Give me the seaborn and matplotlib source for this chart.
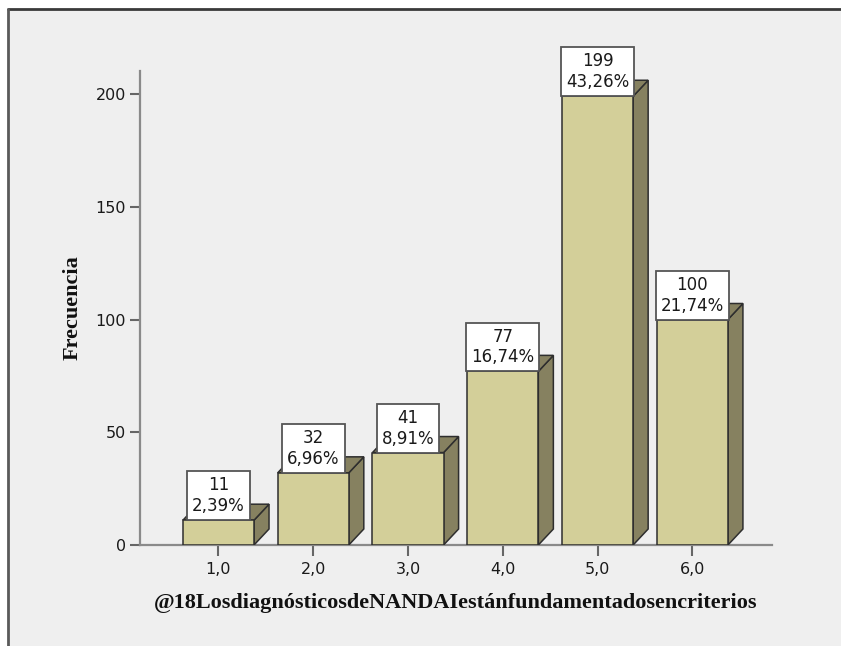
import matplotlib
matplotlib.use("Agg")
import matplotlib.pyplot as plt
from matplotlib.patches import Polygon, Rectangle
from matplotlib.lines import Line2D
import seaborn as sns
import pandas as pd

# Response categories and their frequencies
categories = ["1,0", "2,0", "3,0", "4,0", "5,0", "6,0"]
counts = [11, 32, 41, 77, 199, 100]
percents = ["2,39%", "6,96%", "8,91%", "16,74%", "43,26%", "21,74%"]
y_ticks = [0, 50, 100, 150, 200]

x_title = "@18LosdiagnósticosdeNANDAIestánfundamentadosencriterios"
y_title = "Frecuencia"

front_color = "#d3cf99"
depth_color = "#868160"
edge_color = "#2e2e2e"
panel_color = "#efefef"

df = pd.DataFrame({"categoria": categories, "frecuencia": counts})

sns.set_theme(style="white")
plt.rcParams["font.family"] = ["DejaVu Sans"]

W, H = 841, 646
fig = plt.figure(figsize=(W / 100, H / 100), dpi=100, facecolor="white")

# grey panel with a dark frame on its top and left edges
fig.add_artist(Rectangle((8 / W, 0), 1 - 8 / W, 1 - 9 / H,
                         transform=fig.transFigure, facecolor=panel_color,
                         edgecolor="none", zorder=-10))
fig.add_artist(Line2D([8 / W, 1], [1 - 9 / H, 1 - 9 / H], transform=fig.transFigure,
                      color="#3a3a3a", lw=2.0))
fig.add_artist(Line2D([8 / W, 8 / W], [0, 1 - 9 / H], transform=fig.transFigure,
                      color="#5a5a5a", lw=2.0))

ax_l, ax_r, ax_t, ax_b = 140, 772, 71, 545
ax = fig.add_axes([ax_l / W, (H - ax_b) / H, (ax_r - ax_l) / W, (ax_b - ax_t) / H])
ax.set_facecolor("none")

sns.barplot(data=df, x="categoria", y="frecuencia", order=categories,
            color=front_color, saturation=1, width=0.75,
            edgecolor=edge_color, linewidth=1.1, ax=ax, zorder=3)

ax.set_xlim(-0.828, 5.84)
ax.set_ylim(0, 210.2)

# depth of the 3D faces, expressed in data units (15 px right, 16 px up)
fig.canvas.draw()
p0 = ax.transData.inverted().transform((0, 0))
p1 = ax.transData.inverted().transform((15, 16))
dx, dy = p1[0] - p0[0], p1[1] - p0[1]

for bar, pct in zip(ax.patches, percents):
    x = bar.get_x()
    w = bar.get_width()
    h = bar.get_height()
    side = Polygon([(x + w, 0), (x + w + dx, dy), (x + w + dx, h + dy), (x + w, h)],
                   closed=True, facecolor=depth_color, edgecolor=edge_color,
                   lw=1.1, zorder=2.5)
    top = Polygon([(x, h), (x + dx, h + dy), (x + w + dx, h + dy), (x + w, h)],
                  closed=True, facecolor=depth_color, edgecolor=edge_color,
                  lw=1.1, zorder=2.5)
    ax.add_patch(side)
    ax.add_patch(top)
    ax.annotate(f"{int(round(h))}\n{pct}", xy=(x + w / 2, h),
                xytext=(0, 3.6), textcoords="offset points",
                ha="center", va="bottom", multialignment="center",
                fontsize=12, color="#1a1a1a", linespacing=1.2, zorder=6,
                bbox=dict(boxstyle="square,pad=0.3", facecolor="white",
                          edgecolor="#555555", lw=1.3))

for side_name in ["top", "right"]:
    ax.spines[side_name].set_visible(False)
for side_name in ["left", "bottom"]:
    ax.spines[side_name].set_color("#8a8a8a")
    ax.spines[side_name].set_linewidth(1.6)
ax.spines["bottom"].set_zorder(1)

ax.set_yticks(y_ticks)
ax.set_yticklabels([str(v) for v in y_ticks])
ax.tick_params(axis="both", which="major", direction="out", length=7, width=1.5,
               color="#666666", labelsize=11.5, labelcolor="#1a1a1a", pad=3,
               left=True, bottom=True)
ax.tick_params(axis="x", length=8, pad=4)

ax.set_xlabel(x_title, fontsize=16, fontweight="bold",
              family=["Liberation Serif"], color="#111111")
ax.set_ylabel(y_title, fontsize=16, fontweight="bold",
              family=["Liberation Serif"], color="#111111")
ax.xaxis.label.set_va("center")
ax.yaxis.label.set_va("center")
ax.xaxis.set_label_coords(0.5, (ax_b - 603) / (ax_b - ax_t))
ax.yaxis.set_label_coords((73 - ax_l) / (ax_r - ax_l), (ax_b - 308) / (ax_b - ax_t))
ax.grid(False)

fig.savefig("out.png", dpi=100, facecolor="white")
